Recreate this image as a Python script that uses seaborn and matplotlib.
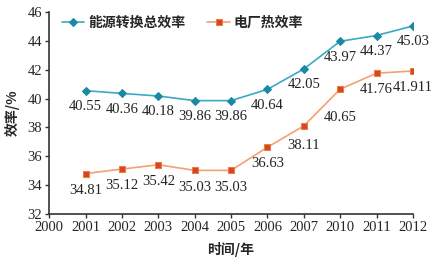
import matplotlib
matplotlib.use("Agg")
import matplotlib.pyplot as plt
import seaborn as sns
import pandas as pd

# 数据
years = ['2000', '2001', '2002', '2003', '2004', '2005', '2006', '2007', '2010', '2011', '2012']
data_years = years[1:]
total_eff = [40.55, 40.36, 40.18, 39.86, 39.86, 40.64, 42.05, 43.97, 44.37, 45.03]
plant_eff = [34.81, 35.12, 35.42, 35.03, 35.03, 36.63, 38.11, 40.65, 41.76, 41.911]
series_names = ['能源转换总效率', '电厂热效率']
y_ticks = [32, 34, 36, 38, 40, 42, 44, 46]

cjk = ['Noto Sans CJK SC', 'DejaVu Sans']
serif = ['Liberation Serif', 'DejaVu Serif']

sns.set_style("white")
plt.rcParams['font.family'] = serif

pos = [years.index(y) for y in data_years]
df = pd.DataFrame({'pos': pos, 'total': total_eff, 'plant': plant_eff})

fig = plt.figure(figsize=(4.43, 2.66), dpi=100)
ax = fig.add_axes([0.111, 0.195, 0.821, 0.76])

sns.lineplot(data=df, x='pos', y='total', ax=ax, color='#3aaac4', linewidth=1.2,
             marker='D', markersize=4.5, markerfacecolor='#1a8aa2', markeredgecolor='#1a8aa2',
             label=series_names[0])
sns.lineplot(data=df, x='pos', y='plant', ax=ax, color='#f4a070', linewidth=1.2,
             marker='s', markersize=5, markerfacecolor='#d9432a', markeredgecolor='#e8803a',
             label=series_names[1])

# 数据标签
for x, v in zip(pos, total_eff):
    ax.annotate(str(v), (x, v), xytext=(0, -11.5), textcoords='offset points',
                ha='center', va='center', fontsize=10.5, color='#222222')
for i, (x, v) in enumerate(zip(pos, plant_eff)):
    dy = {'2007': -14, '2010': -20}.get(data_years[i], -12)
    ax.annotate(str(v), (x, v), xytext=(0, dy), textcoords='offset points',
                ha='center', va='center', fontsize=10.5, color='#222222')

ax.set_xlim(0, len(years) - 1)
ax.set_xticks(range(len(years)))
ax.set_xticklabels(years, fontsize=10.5)
ax.set_ylim(32, 46)
ax.set_yticks(y_ticks)
ax.set_yticklabels([str(t) for t in y_ticks], fontsize=10.5)

ax.set_xlabel('时间/年', family=cjk, fontsize=10, fontweight='bold', labelpad=6)
ax.set_ylabel('效率/%', family=cjk, fontsize=10, fontweight='bold', labelpad=6)

for s in ['top', 'right']:
    ax.spines[s].set_visible(False)
for s in ['left', 'bottom']:
    ax.spines[s].set_color('#333333')
    ax.spines[s].set_linewidth(1.2)
ax.tick_params(axis='both', direction='out', length=3, width=1, color='#333333',
               left=True, bottom=True, pad=2)

leg = ax.legend(loc='upper left', bbox_to_anchor=(0.0, 1.045), ncol=2, frameon=False,
                handlelength=1.6, columnspacing=1.6, handletextpad=0.3,
                prop={'family': cjk, 'size': 10, 'weight': 'bold'})

fig.savefig('out.png', dpi=100)
